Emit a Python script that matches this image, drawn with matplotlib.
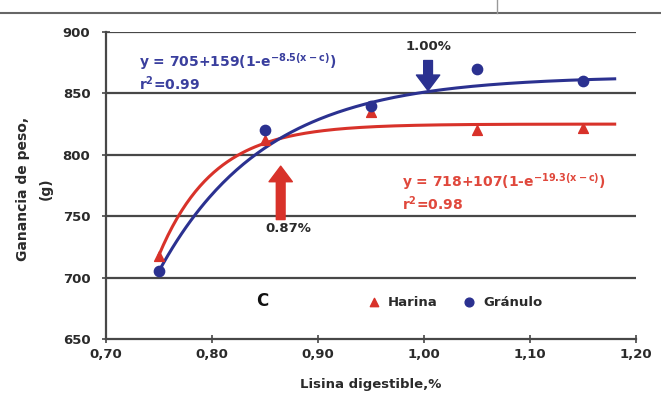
import matplotlib
matplotlib.use("Agg")
import matplotlib.pyplot as plt
import numpy as np

plt.rcParams['font.family'] = ['DejaVu Sans']
plt.rcParams['font.weight'] = 'bold'
plt.rcParams['mathtext.fontset'] = 'custom'
plt.rcParams['mathtext.rm'] = 'DejaVu Sans:bold'
plt.rcParams['mathtext.it'] = 'DejaVu Sans:bold'
plt.rcParams['mathtext.bf'] = 'DejaVu Sans:bold'

# observed points
lisina = [0.75, 0.85, 0.95, 1.05, 1.15]
harina = [718, 812, 835, 820, 822]
granulo = [705, 820, 840, 870, 860]

# fitted curves: y = a + b(1 - exp(-k(x - x0)))
harina_fit = dict(a=718, b=107, k=19.3)
granulo_fit = dict(a=705, b=159, k=10.0)
x0 = 0.75
x_end = 1.18

red = '#d8322a'
blue = '#2b3190'
grid_c = '#474747'
txt_c = '#2a2a2a'

fig = plt.figure(figsize=(6.61, 4.15), dpi=100)
ax = fig.add_axes([0.160, 0.183, 0.802, 0.740])

# decorative frame lines from the page
fig.add_artist(plt.Line2D([0, 1], [1 - 13/415, 1 - 13/415], color='#666666', lw=1.5))
fig.add_artist(plt.Line2D([497/661, 497/661], [1, 1 - 13/415], color='#999999', lw=1))

for yv in [700, 750, 800, 850, 900]:
    ax.axhline(yv, color=grid_c, lw=1.6, zorder=1)

xx = np.linspace(x0, x_end, 200)
def fit(p, x):
    return p['a'] + p['b'] * (1 - np.exp(-p['k'] * (x - x0)))

ax.plot(xx, fit(harina_fit, xx), color=red, lw=2.2, zorder=3)
ax.plot(xx, fit(granulo_fit, xx), color=blue, lw=2.2, zorder=3)
ax.scatter(lisina, harina, marker='^', s=50, color=red, zorder=4, label='Harina')
ax.scatter(lisina, granulo, marker='o', s=55, color=blue, zorder=5, label='Gránulo')

ax.set_xlim(0.70, 1.20)
ax.set_ylim(650, 900)
ax.set_xticks([0.70, 0.80, 0.90, 1.00, 1.10, 1.20])
ax.set_xticklabels(['0,70', '0,80', '0,90', '1,00', '1,10', '1,20'])
ax.set_yticks([650, 700, 750, 800, 850, 900])
for s in ['top', 'right']:
    ax.spines[s].set_visible(False)
for s in ['left', 'bottom']:
    ax.spines[s].set_color(grid_c)
    ax.spines[s].set_linewidth(1.6)
ax.tick_params(direction='inout', length=6, width=1.2, color=grid_c,
               labelsize=9.5, labelcolor=txt_c)
ax.tick_params(axis='y', pad=8)
for lb in ax.get_xticklabels() + ax.get_yticklabels():
    lb.set_fontweight('bold')

ax.set_xlabel('Lisina digestible,%', fontsize=9.5, fontweight='bold', color=txt_c, labelpad=12)
fig.text(0.052, 0.545, 'Ganancia de peso,\n(g)', rotation=90, ha='center', va='center',
         fontsize=10, fontweight='bold', color=txt_c, linespacing=1.8)

# equations
eq_blue = '#3a3f9e'
eq_red = '#e0483c'
ax.text(0.731, 876, r'y = 705+159(1-e$^{-8.5(x-c)}$)', color=eq_blue, fontsize=10, va='center')
ax.text(0.731, 858, r'r$^{2}$=0.99', color=eq_blue, fontsize=10, va='center')
ax.text(0.979, 778, r'y = 718+107(1-e$^{-19.3(x-c)}$)', color=eq_red, fontsize=10, va='center')
ax.text(0.979, 760, r'r$^{2}$=0.98', color=eq_red, fontsize=10, va='center')

# optimum arrows
ax.annotate('', xy=(0.865, 793), xytext=(0.865, 745),
            arrowprops=dict(arrowstyle='simple,head_width=1.2,head_length=0.8,tail_width=0.45',
                            color=red, mutation_scale=14), zorder=6)
ax.text(0.872, 740, '0.87%', ha='center', va='center', fontsize=9.5, color=txt_c)
ax.annotate('', xy=(1.004, 850), xytext=(1.004, 879),
            arrowprops=dict(arrowstyle='simple,head_width=1.2,head_length=0.8,tail_width=0.45',
                            color=blue, mutation_scale=14), zorder=6)
ax.text(1.004, 888, '1.00%', ha='center', va='center', fontsize=9.5, color=txt_c)

ax.text(0.848, 681, 'C', ha='center', va='center', fontsize=12, color='#111111')

leg = ax.legend(loc='center', bbox_to_anchor=(0.652, 0.12), ncol=2, frameon=False,
                fontsize=9.5, handletextpad=0.05, columnspacing=1.4, markerscale=0.85)
for t in leg.get_texts():
    t.set_fontweight('bold')
    t.set_color(txt_c)

fig.savefig('out.png', dpi=100)
